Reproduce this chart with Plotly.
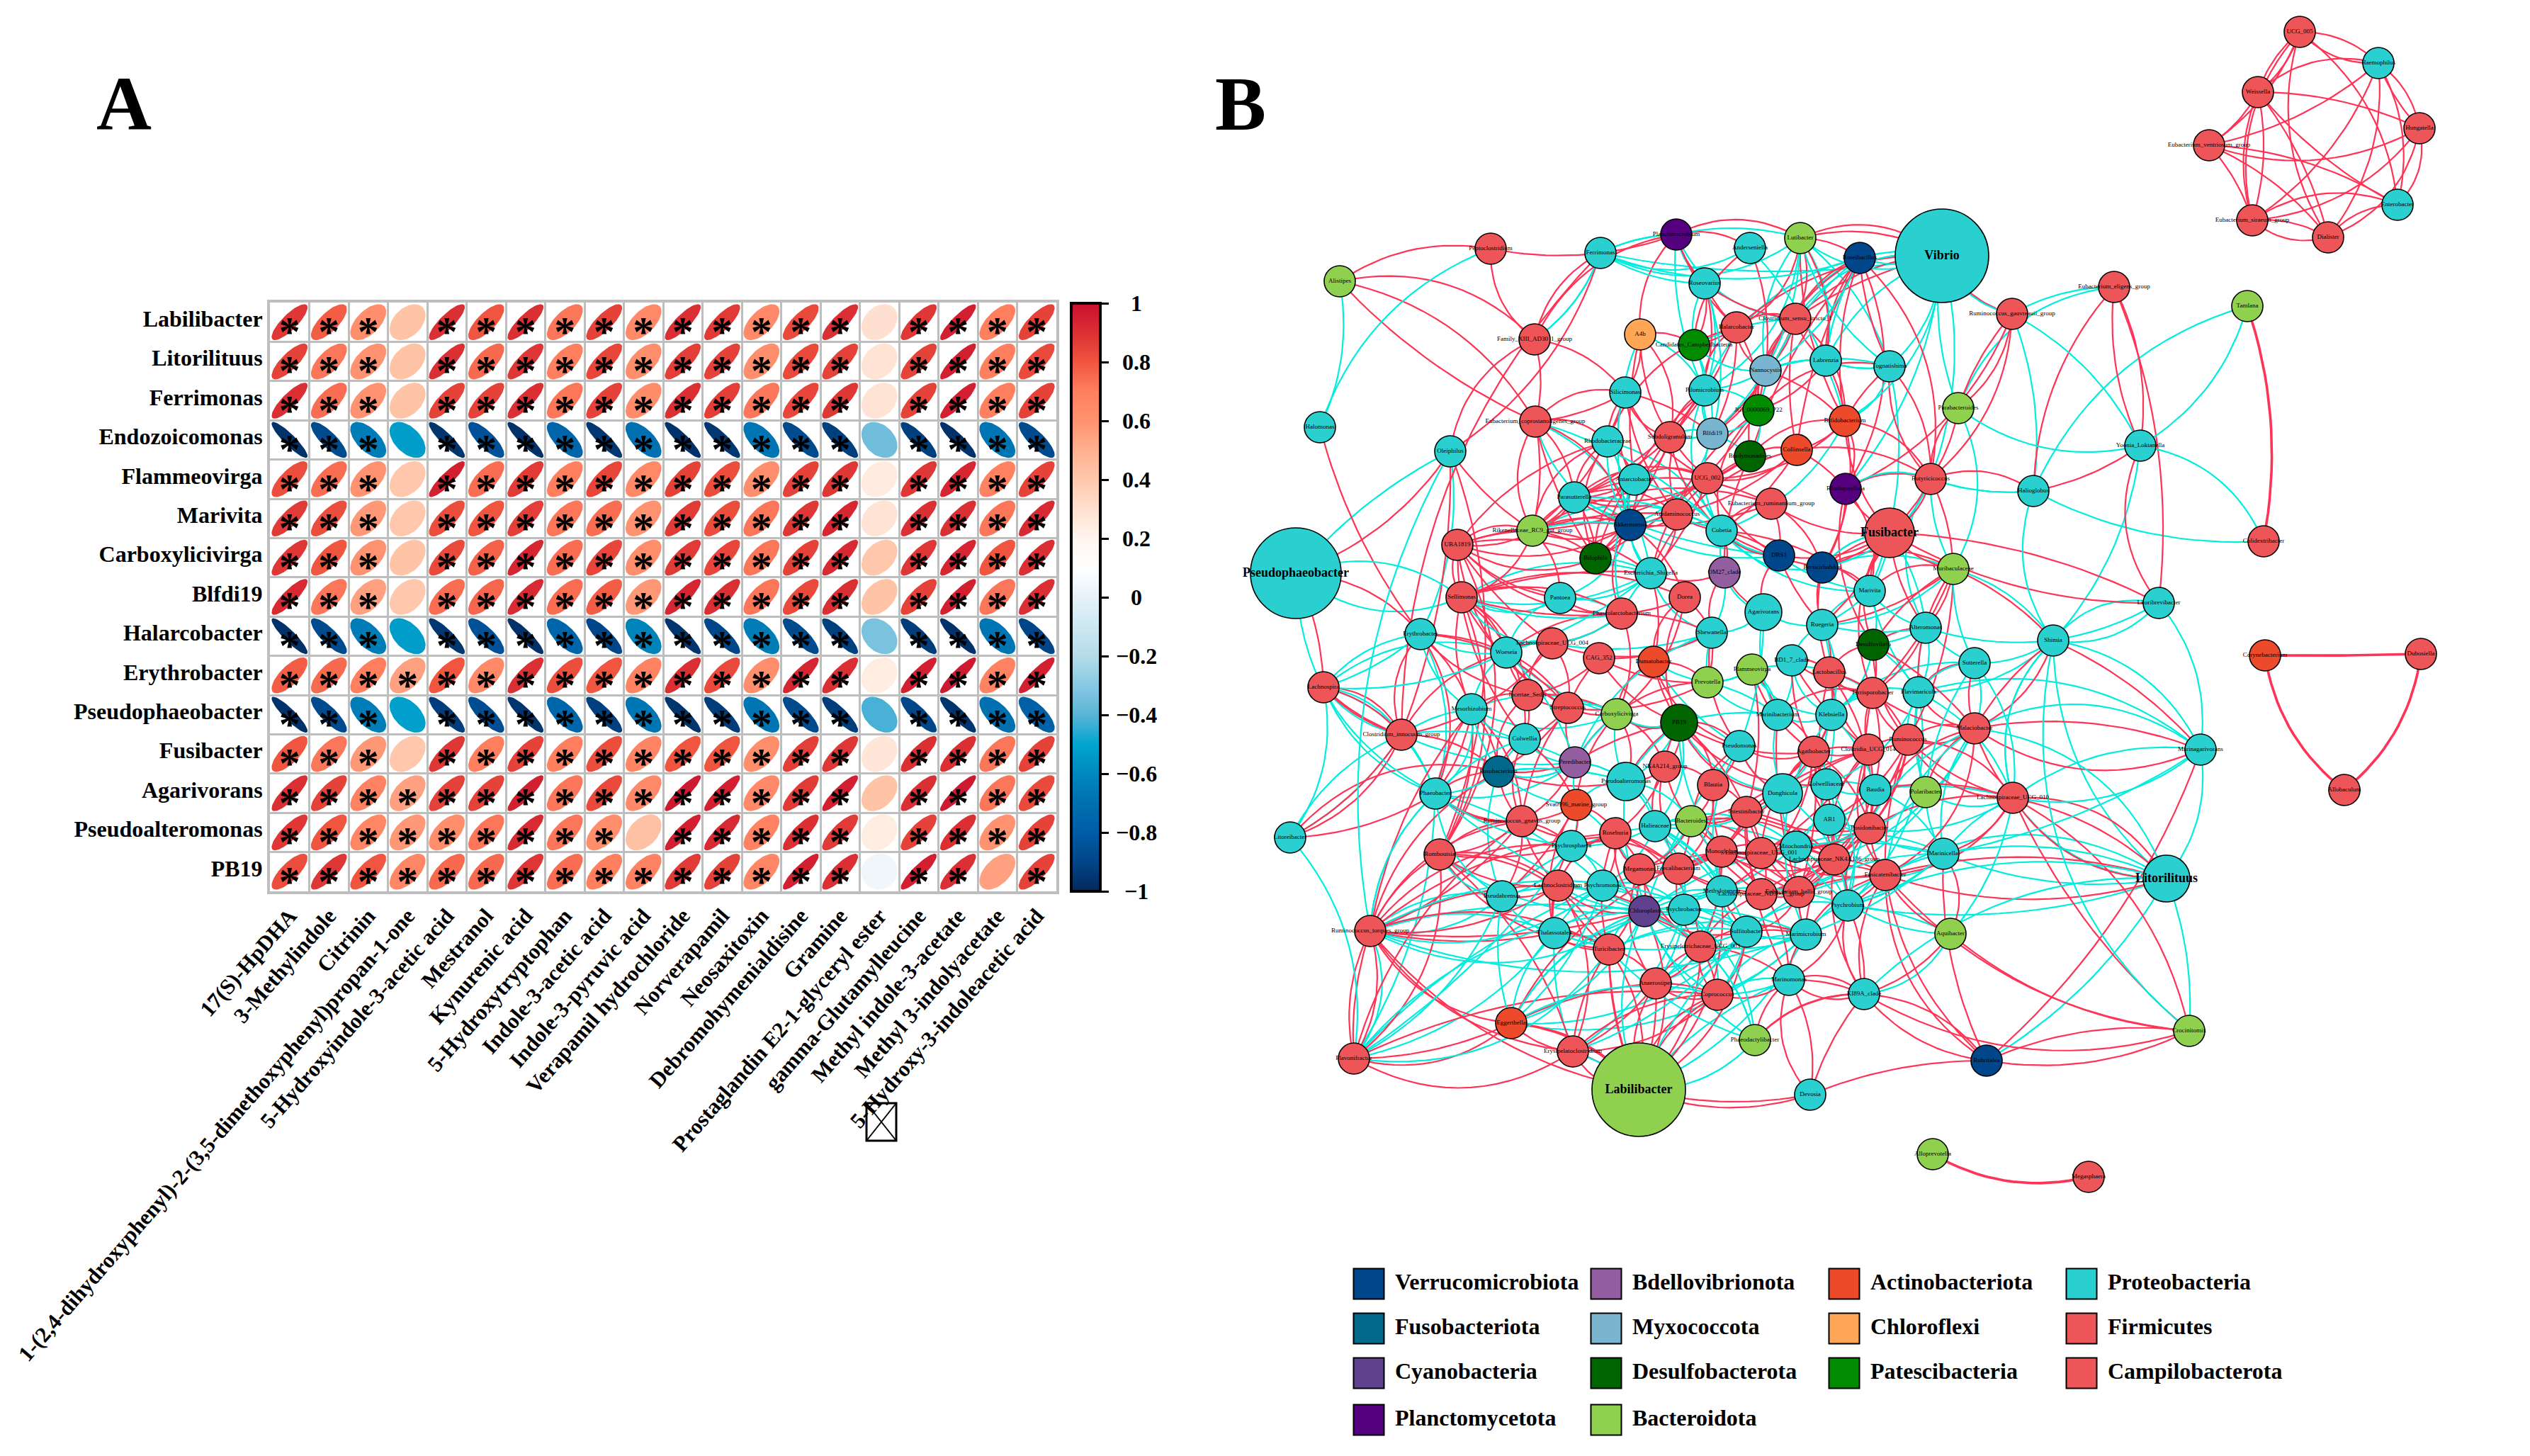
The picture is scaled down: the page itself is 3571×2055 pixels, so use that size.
import numpy as np
import plotly.graph_objects as go
from plotly.colors import sample_colorscale

FONT = "Liberation Serif"

# ---------- Panel A data ----------
metabolites = ["17(S)-HpDHA", "3-Methylindole", "Citrinin",
    "1-(2,4-dihydroxyphenyl)-2-(3,5-dimethoxyphenyl)propan-1-one",
    "5-Hydroxyindole-3-acetic acid", "Mestranol", "Kynurenic acid", "5-Hydroxytryptophan",
    "Indole-3-acetic acid", "Indole-3-pyruvic acid", "Verapamil hydrochloride", "Norverapamil",
    "Neosaxitoxin", "Debromohymenialdisine", "Gramine", "Prostaglandin E2-1-glyceryl ester",
    "gamma-Glutamylleucine", "Methyl indole-3-acetate", "Methyl 3-indolyacetate",
    "5-Hydroxy-3-indoleacetic acid"]
genera = ["Labilibacter", "Litorilituus", "Ferrimonas", "Endozoicomonas", "Flammeovirga", "Marivita",
    "Carboxylicivirga", "Blfdi19", "Halarcobacter", "Erythrobacter", "Pseudophaeobacter", "Fusibacter",
    "Agarivorans", "Pseudoalteromonas", "PB19"]
corr = [
 [.88,.78,.62,.42,.90,.80,.90,.72,.85,.65,.90,.87,.65,.83,.90,.30,.88,.95,.70,.85],
 [.85,.72,.60,.42,.90,.75,.88,.70,.84,.62,.86,.85,.62,.83,.85,.28,.85,.95,.70,.83],
 [.90,.74,.60,.42,.85,.85,.90,.72,.85,.63,.90,.86,.72,.84,.88,.28,.85,.95,.70,.85],
 [-.97,-.88,-.65,-.53,-.96,-.85,-.97,-.75,-.95,-.70,-.97,-.95,-.68,-.88,-.92,-.35,-.92,-.97,-.68,-.88],
 [.82,.74,.60,.40,.95,.74,.87,.70,.84,.65,.85,.82,.62,.85,.88,.25,.88,.93,.68,.85],
 [.87,.82,.58,.40,.82,.80,.86,.72,.74,.60,.87,.82,.72,.88,.93,.28,.90,.90,.72,.92],
 [.88,.80,.60,.42,.83,.77,.93,.74,.84,.62,.87,.84,.72,.85,.92,.40,.88,.93,.80,.90],
 [.92,.72,.55,.40,.74,.76,.92,.74,.78,.58,.93,.90,.72,.83,.90,.42,.85,.95,.72,.90],
 [-.97,-.88,-.65,-.53,-.95,-.85,-.97,-.75,-.90,-.62,-.96,-.90,-.65,-.88,-.92,-.33,-.93,-.97,-.68,-.90],
 [.78,.75,.70,.55,.80,.65,.90,.82,.80,.68,.90,.83,.62,.93,.90,.24,.95,.97,.68,.95],
 [-.97,-.88,-.65,-.52,-.93,-.87,-.96,-.75,-.92,-.68,-.96,-.93,-.68,-.88,-.93,-.42,-.90,-.96,-.70,-.78],
 [.80,.72,.58,.40,.88,.70,.85,.70,.82,.67,.80,.80,.62,.86,.88,.27,.90,.90,.72,.85],
 [.90,.85,.68,.55,.85,.85,.95,.72,.83,.65,.97,.95,.65,.87,.95,.42,.90,.97,.72,.83],
 [.88,.80,.66,.58,.62,.72,.92,.72,.62,.43,.95,.92,.68,.90,.87,.24,.85,.90,.60,.85],
 [.82,.88,.80,.66,.75,.75,.88,.74,.70,.68,.87,.85,.66,.95,.90,.04,.95,.90,.55,.85],
]
no_star = [(r, 3) for r in (0,1,2,3,4,5,6,7,8,10,11)] + [(r, 15) for r in range(15)] + [(13, 9), (14, 18)]
cb_ticks = [1, .8, .6, .4, .2, 0, -.2, -.4, -.6, -.8, -1]
cb_text = ["1", "0.8", "0.6", "0.4", "0.2", "0", "\u22120.2", "\u22120.4", "\u22120.6", "\u22120.8", "\u22121"]
rdbu = [[0,"#04285C"],[.05,"#004688"],[.1,"#005CA6"],[.15,"#0070B0"],[.2,"#0088BE"],[.25,"#00A5CF"],
        [.3,"#5AB4D6"],[.35,"#88C8E2"],[.4,"#B4DCEA"],[.5,"#E6F2F8"],[.55,"#FFFFFF"],[.6,"#FFF5EE"],
        [.65,"#FFE0D0"],[.7,"#FFC8AC"],[.75,"#FFB090"],[.8,"#FF9270"],[.85,"#FF7F5F"],[.9,"#F0553F"],
        [.95,"#DB3033"],[1,"#C8102E"]]

# ---------- Panel B data ----------
phyla = ["Verrucomicrobiota","Fusobacteriota","Cyanobacteria","Planctomycetota","Bdellovibrionota","Myxococcota",
         "Desulfobacterota","Bacteroidota","Actinobacteriota","Chloroflexi","Patescibacteria","Proteobacteria",
         "Firmicutes","Campilobacterota"]
phylum_colors = ["#00468B","#00688B","#5F4190","#54007F","#925E9F","#7AB5CF","#006400","#8FD14F","#ED4A2B",
                 "#FFA657","#008B00","#2AD0D0","#ED5558","#ED5558"]
node_table = """Ali Alistipes 1891 397 Bacteroidota
Pep Peptoclostridium 2104 351 Firmicutes
Fer Ferrimonas 2259 357 Proteobacteria
Pla Planctomicrobium 2366 331 Planctomycetota
And Anderseniella 2470 350 Proteobacteria
Lut Lutibacter 2541 336 Bacteroidota
Rbc Roseibacillus 2625 364 Verrucomicrobiota
Rsv Roseovarius 2406 400 Proteobacteria
Css Clostridium_sensu_stricto_1 2534 450 Firmicutes
Hla Halarcobacter 2451 462 Firmicutes
A4b A4b 2315 472 Chloroflexi
Cam Candidatus_Campbellbacteria 2391 487 Patescibacteria
Fam Family_XIII_AD3011_group 2166 479 Firmicutes
Nan Nannocystis 2492 523 Myxococcota
Lbz Labrenzia 2577 509 Proteobacteria
Pil Pilomicrobium 2406 551 Proteobacteria
Sil Silicimonas 2294 554 Proteobacteria
JGI JGI_0000069_P22 2482 579 Patescibacteria
Bif Bifidobacterium 2604 594 Actinobacteriota
Hlm Halomonas 1863 603 Proteobacteria
Eco Eubacterium_coprostanoligenes_group 2167 595 Firmicutes
Blf Blfdi19 2417 612 Myxococcota
Sub Subdoligranulum 2357 617 Firmicutes
Rhb Rhodobacteraceae 2269 623 Proteobacteria
Ole Oleiphilus 2047 637 Proteobacteria
Bra Bradymonadales 2470 644 Desulfobacterota
Col Collinsella 2536 635 Actinobacteriota
U02 UCG_002 2410 675 Firmicutes
Ant Antarctobacter 2307 677 Proteobacteria
Rpl Rhodopirellula 2605 690 Planctomycetota
Par Parasutterella 2222 702 Proteobacteria
Eru Eubacterium_ruminantium_group 2500 711 Firmicutes
Akk Akkermansia 2301 741 Verrucomicrobiota
Aci Acidaminococcus 2367 726 Firmicutes
Cob Cobetia 2430 749 Proteobacteria
Rik Rikenellaceae_RC9_gut_group 2163 749 Bacteroidota
UBA UBA1819 2057 769 Firmicutes
Fus Fusibacter 2667 752 Firmicutes
DBS DBS1 2511 784 Verrucomicrobiota
Per Persicirhabdus 2572 801 Verrucomicrobiota
Bil Bilophila 2252 788 Desulfobacterota
OM2 OM27_clade 2434 808 Bdellovibrionota
Esc Escherichia_Shigella 2330 809 Proteobacteria
Psp Pseudophaeobacter 1829 809 Proteobacteria
Mar Marivita 2639 834 Proteobacteria
Sel Sellimonas 2063 843 Firmicutes
Pan Pantoea 2202 844 Proteobacteria
Dor Dorea 2378 843 Firmicutes
Pha Phascolarctobacterium 2289 866 Firmicutes
Aga Agarivorans 2489 864 Proteobacteria
Rue Ruegeria 2572 882 Proteobacteria
Ery Erythrobacter 2005 895 Proteobacteria
She Shewanella 2416 893 Proteobacteria
L04 Lachnospiraceae_UCG_004 2191 908 Firmicutes
Dsv Desulfovibrio 2644 910 Desulfobacterota
Woe Woeseia 2126 921 Proteobacteria
CAG CAG_352 2257 929 Firmicutes
Dum Dumatobacter 2334 934 Actinobacteriota
BD1 BD1_7_clade 2529 932 Proteobacteria
Fla Flammeovirga 2473 945 Bacteroidota
Lac Lactobacillus 2582 949 Firmicutes
Pre Prevotella 2410 963 Bacteroidota
Lsp Lachnospira 1868 970 Firmicutes
Inc Incertae_Sedis 2156 981 Firmicutes
Ter Terrisporobacter 2643 978 Firmicutes
Str Streptococcus 2213 999 Firmicutes
Mes Mesorhizobium 2077 1001 Proteobacteria
Car Carboxylicivirga 2282 1008 Bacteroidota
Kle Klebsiella 2585 1009 Proteobacteria
Mrb Marinibacterium 2509 1009 Proteobacteria
PB1 PB19 2370 1020 Desulfobacterota
Cin Clostridium_innocuum_group 1978 1037 Firmicutes
Cwl Colwellia 2152 1043 Proteobacteria
Psm Pseudomonas 2455 1053 Proteobacteria
Agt Agathobacter 2560 1061 Firmicutes
C14 Clostridia_UCG_014 2637 1058 Firmicutes
Prd Peredibacter 2223 1076 Bdellovibrionota
Fsb Fusobacterium 2115 1089 Fusobacteriota
NK4 NK4A214_group 2350 1082 Firmicutes
Pal Pseudoalteromonas 2295 1103 Proteobacteria
Blt Blautia 2418 1108 Firmicutes
Pba Phaeobacter 2026 1120 Proteobacteria
Don Donghicola 2516 1120 Proteobacteria
Cwc Colwelliaceae 2578 1107 Proteobacteria
Bau Baudia 2647 1115 Proteobacteria
Sva Sva0996_marine_group 2225 1136 Actinobacteriota
Int Intestinibacter 2465 1146 Firmicutes
AB1 AB1 2582 1157 Proteobacteria
Gna Ruminococcus_gnavus_group 2148 1159 Firmicutes
Bac Bacteroides 2387 1159 Bacteroidota
Hli Halieaceae 2336 1166 Proteobacteria
Rbu Roseburia 2280 1176 Firmicutes
Lto Litoreibacter 1821 1182 Proteobacteria
Pos Posidonibacter 2639 1169 Firmicutes
Psy Psychrosphaera 2218 1194 Proteobacteria
Mit Mitochondria 2535 1195 Proteobacteria
Mon Monoglobus 2430 1202 Firmicutes
LUC Lachnospiraceae_UCG_001 2486 1204 Firmicutes
Rom Romboutsia 2032 1206 Firmicutes
N36 Lachnospiraceae_NK4A136_group 2589 1213 Firmicutes
Fae Faecalibacterium 2369 1226 Firmicutes
Meg Megamonas 2314 1227 Firmicutes
Lcl Lachnoclostridium 2199 1250 Firmicutes
Prm Psychromonas 2262 1250 Proteobacteria
Met Methylotenera 2430 1258 Proteobacteria
ND3 Lachnospiraceae_ND3007_group 2486 1262 Firmicutes
Hll Eubacterium_hallii_group 2539 1259 Firmicutes
Pah Pseudahrensia 2120 1265 Proteobacteria
Prb Psychrobium 2608 1278 Proteobacteria
Chl Chloroplast 2321 1286 Cyanobacteria
Pbt Psychrobacter 2377 1284 Proteobacteria
Sfb Sulfitobacter 2465 1315 Proteobacteria
Mmb Marimicrobium 2549 1319 Proteobacteria
Tor Ruminococcus_torques_group 1934 1314 Firmicutes
Tha Thalassotalea 2194 1317 Proteobacteria
Tur Turicibacter 2271 1340 Firmicutes
E03 Erysipelotrichaceae_UCG_003 2400 1336 Firmicutes
Ana Anaerostipes 2337 1388 Firmicutes
Cop Coprococcus 2424 1404 Firmicutes
Mnm Marinomonas 2525 1383 Proteobacteria
Egg Eggerthella 2133 1444 Actinobacteriota
Ecl Erysipelatoclostridium 2220 1484 Firmicutes
Flv Flavonifractor 1911 1494 Firmicutes
Phd Phaeodactylibacter 2477 1468 Bacteroidota
KI8 KI89A_clade 2631 1403 Proteobacteria
Lbl Labilibacter 2313 1538 Bacteroidota
Dev Devosia 2555 1545 Proteobacteria
U05 UCG_005 3246 45 Firmicutes
Hae Haemophilus 3357 89 Proteobacteria
Wei Weissella 3187 130 Firmicutes
Hun Hungatella 3415 181 Firmicutes
Eve Eubacterium_ventriosum_group 3118 205 Firmicutes
Ent Enterobacter 3384 289 Proteobacteria
Esi Eubacterium_siraeum_group 3179 311 Firmicutes
Dia Dialister 3286 335 Firmicutes
Vib Vibrio 2741 361 Proteobacteria
Eel Eubacterium_eligens_group 2984 405 Firmicutes
Gau Ruminococcus_gauvreauii_group 2840 443 Firmicutes
Tam Tamlana 3172 432 Bacteroidota
Tog Tognatishima 2667 517 Proteobacteria
Pbd Parabacteroides 2764 576 Bacteroidota
Yoo Yoonia_Loktanella 3021 629 Proteobacteria
But Butyricicoccus 2725 676 Firmicutes
Hgl Halioglobus 2870 693 Proteobacteria
Cdx Colidextribacter 3195 764 Firmicutes
Lbr Litoribrevibacter 3047 851 Proteobacteria
Shi Shimia 2898 904 Proteobacteria
Alt Alteromonas 2718 886 Proteobacteria
Cor Corynebacterium 3197 925 Actinobacteriota
Dub Dubosiella 3417 923 Firmicutes
Sut Sutterella 2787 936 Proteobacteria
Fmr Flavimaricola 2708 977 Proteobacteria
Mal Malaciobacter 2787 1028 Campilobacterota
Rum Ruminococcus 2693 1044 Firmicutes
Mag Marinagarivorans 3106 1058 Proteobacteria
L10 Lachnospiraceae_UCG_010 2841 1126 Firmicutes
Pol Polaribacter 2718 1118 Bacteroidota
All Allobaculum 3309 1115 Firmicutes
Min Marinicella 2743 1205 Proteobacteria
Fct Fusicatenibacter 2661 1235 Firmicutes
Lit Litorilituus 3058 1240 Proteobacteria
Aqu Aquibacter 2753 1318 Bacteroidota
Cro Crocinitomix 3090 1455 Bacteroidota
Rub Rubritalea 2804 1497 Verrucomicrobiota
Apv Alloprevotella 2728 1629 Bacteroidota
Mgs Megasphaera 2948 1661 Firmicutes
Mur Muribaculaceae 2757 803 Bacteroidota"""
_rows = [l.split() for l in node_table.splitlines()]
node_ids = [r[0] for r in _rows]
node_names = [r[1] for r in _rows]
node_x = [int(r[2]) for r in _rows]
node_y = [int(r[3]) for r in _rows]
node_phylum = [r[4] for r in _rows]
big_nodes = {"Psp":128, "Vib":132, "Lbl":132, "Fus":70, "Lit":66}
mid_nodes = {"PB1":52, "Aga":52, "Pal":54, "Don":56}

red_edges = """Ali-Pep Ali-Fam Ali-Eco Ali-Eco Pep-Pla Pep-Fam Fer-Fam Pla-Fam Pla-And Pla-Lut Pla-Rsv Pla-A4b Pla-Hla
Lut-Vib Lut-Css Lut-Hla Lut-Rbc Lut-Bif Lut-Lbz And-Cam And-Nan Rsv-Css Rsv-Hla Rsv-Cam Rsv-Sub Css-Hla Css-Nan Css-Bif Css-Col Css-JGI Css-Lbz Css-Bra Css-Blf Css-Rbc Css-Vib
Hla-Cam Hla-Nan Hla-JGI Hla-Pil Hla-Blf Hla-Sub Hla-Vib Hla-Rhb A4b-Sil A4b-Ant A4b-Sub A4b-Cam A4b-U02 Rbc-Bif Rbc-Tog Rbc-Col Rbc-JGI Rbc-Lbz Rbc-But Rbc-Rpl Rbc-Bra
Nan-JGI Nan-Blf Nan-Bif Lbz-Bif Lbz-JGI Tog-Bif Tog-JGI Tog-But Tog-But Bif-But Bif-Rpl Bif-Col Bif-Per Bif-Fus Bif-U02 Bif-Bra Col-U02 Col-Bra Col-Aci Col-Cob Col-Rpl Col-But Col-Esc
Bra-U02 Bra-Par Bra-Rik Bra-Aci JGI-Cob JGI-Bil JGI-Esc Sil-Eco Sil-Eco Sil-Sub Sil-Rhb Sil-Ant Sil-Aci Sil-Rik Sil-U02 Sil-Blf Pil-Sub Pil-Par Pil-Bil Pil-Aci Sub-Ant Sub-Cob Sub-Bil Sub-Akk Sub-Par
Rhb-Ant Rhb-Par Rhb-Akk Rhb-Bil Rhb-Rik Rhb-UBA Eco-Rhb Eco-Rik Eco-Rik Eco-Akk Eco-Bil Eco-Par Eco-Fam Fam-Sil Ole-Fer Ole-Rik Ole-Psp Ole-Fam
U02-Aci U02-Ant U02-Par U02-Par U02-Esc U02-DBS Ant-Akk Ant-Par Ant-Bil Aci-Par Aci-Akk Aci-Cob Aci-Rik Aci-Bil Aci-Esc Par-Rik Par-Rik Par-UBA Par-Akk Par-Bil
Eru-Rik Eru-Par Eru-Akk Eru-Cob Eru-DBS Eru-Per Eru-Fus Rik-Akk Rik-Akk Rik-UBA Rik-Bil Rik-Sel Rik-Pan UBA-Akk UBA-Akk UBA-Sel UBA-Bil UBA-Bil UBA-Pha UBA-L04 UBA-Pan UBA-Esc UBA-Cwl UBA-Str
Akk-Pha Akk-Bil Akk-Dor Cob-Per Cob-OM2 Cob-DBS Cob-DBS Cob-Mar Rpl-Fus Rpl-Per Rpl-Mar Rpl-Dsv Fus-Per Fus-Mar Fus-Rue Fus-Mur Fus-DBS Fus-Dsv Fus-Alt Fus-Lbr Per-Mar Per-Rue Per-Mur Per-Lac DBS-Rue DBS-Aga OM2-Esc OM2-She OM2-Aga OM2-Bra
Hlm-Ery Psp-Ery Psp-Lsp Ole-Rom Sel-Pan Sel-Pha Sel-Pha Sel-Woe Sel-Esc Sel-Inc Sel-Str Sel-Dor Sel-Cwl Sel-Mes Pan-Pha Pha-She Pha-Car Pha-Woe Pha-L04 Pha-Dor Ery-Mes Ery-Woe Ery-Inc Ery-Str Ery-Cin
L04-Str L04-Inc L04-She L04-Woe L04-Cin Woe-Inc Woe-Str CAG-She CAG-Str CAG-PB1 CAG-Pre CAG-Inc Dum-Pre Dum-Car Dum-PB1 Dum-Psm Dum-Esc Dor-Dum Dor-Car Dor-She Dor-PB1 She-Pre She-Psm Pre-Car Pre-Str
Inc-Cwl Inc-Mes Inc-Str Inc-Car Inc-Fsb Str-Prd Str-Car Str-Fsb Str-Cwl Str-Gna Mes-Fsb Mes-Gna Mes-Pba Mes-Rom Cin-Lto Cin-Lsp Cin-Lsp Cin-Ole Cin-Fer Cin-Woe Cwl-Gna Cwl-Fsb Cwl-Sva
Prd-PB1 Prd-Fsb Prd-Gna Prd-Car Fsb-Lto Fsb-Pba Fsb-Gna Fsb-Pal Car-PB1 Car-NK4 Car-Pal Car-Sva PB1-NK4 PB1-Psm PB1-Blt PB1-Agt PB1-Int PB1-Don PB1-Pal PB1-Fae PB1-Cwc NK4-Pal NK4-Blt NK4-Hli NK4-Bac NK4-Rbu
Psm-Agt Psm-Blt Psm-Don Psm-Bac Blt-Int Blt-Bac Blt-Fae Blt-Mon Agt-Int Agt-Don Agt-Cwc Agt-Lac Agt-C14 Agt-C14 Agt-AB1 Agt-Pos Agt-Met Agt-Bac Agt-LUC Agt-N36 Agt-Hll Agt-Kle
Lac-C14 Lac-Ter Lac-Dsv Lac-Pos Lac-N36 Lac-Rue BD1-Lac BD1-Agt BD1-C14 BD1-Ter Fla-Agt Fla-Int Fla-Mrb Mrb-Agt Mrb-Hll Mrb-Ter Ter-C14 Ter-Dsv Ter-Rum Ter-Fus Ter-Pos Ter-N36
Rum-C14 Rum-C14 Rum-Pos Rum-Fct Rum-N36 Rum-L10 Rum-Mal Rum-L10 Rum-AB1 Rum-Hll Rum-Lac Rum-Dsv C14-Pos C14-N36 C14-Int C14-Hll C14-LUC C14-Fct C14-Mon Pos-N36 Pos-Hll Pos-Fct Pos-LUC Pos-Mon Pos-ND3 Pos-Int
N36-Fct N36-Hll N36-Int N36-LUC N36-ND3 N36-Mon N36-Fae N36-Bac Fct-Hll Fct-ND3 Fct-LUC Fct-Aqu Fct-KI8 Fct-Rub Fct-Mal Hll-ND3 Hll-LUC Hll-Mon Hll-Int Hll-Bac Hll-Fae ND3-LUC ND3-Mon ND3-Int ND3-Bac ND3-Fae ND3-E03
LUC-Mon LUC-Int LUC-Bac LUC-Fae LUC-Meg Mon-Fae Mon-Int Mon-Bac Mon-Meg Mon-E03 Int-Bac Int-Fae Fae-Meg Fae-Bac Fae-E03 Fae-Rbu Fae-Psy Meg-Rbu Meg-Bac Meg-E03 Meg-Ana Meg-Tur
E03-Ana E03-Ana E03-Cop E03-Cop E03-Lcl E03-Rbu E03-Mnm E03-Mmb E03-Lbl Ana-Cop Ana-Cop Ana-Lbl Ana-Lbl Ana-Ecl Ana-Tur Ana-Egg Cop-Ecl Cop-Lbl Cop-Flv Cop-Mnm
Tur-Tha Tur-Tha Tur-Tor Tur-Rom Tur-Lbl Tur-Lbl Tur-Ecl Tor-Egg Tor-Ecl Tor-Tha Tor-Rom Tor-Lcl Tor-Lcl Tor-Gna Tor-Gna Tor-Fsb Tor-Lbl Tor-Flv Tor-Flv Tor-Flv Tor-Psy Tor-Rbu Tor-Chl
Rom-Gna Rom-Gna Rom-Lcl Rom-Lcl Rom-Flv Rom-Psy Rom-Tur Rom-Ecl Gna-Rbu Gna-Lcl Gna-Sva Gna-Pba Gna-Psy Gna-Flv Sva-Rbu Sva-Psy Rbu-Lcl Rbu-Chl Rbu-Prm Rbu-Psy Rbu-Chl Rbu-Tur Lcl-Chl Lcl-Tha Lcl-Tur Lcl-Ecl
Egg-Ecl Egg-Lbl Egg-Flv Egg-Lbl Egg-Mon Ecl-Lbl Ecl-Lbl Ecl-Cop Flv-Ecl Flv-Egg Lbl-Dev Lbl-Cop Lbl-Tur Lbl-Chl Lbl-Met Lbl-Sfb Phd-Mnm Phd-KI8 Mnm-Prb Mnm-KI8 Mnm-KI8 Mnm-KI8 Mnm-Dev Mnm-Mmb Mnm-Mon Mnm-Int
Mmb-Hll Mmb-N36 Mmb-Sfb Mmb-Fct Sfb-Hll Sfb-Mon Sfb-Chl Sfb-Cop Prb-KI8 Prb-KI8 Prb-Fct Prb-Pos Prb-N36
Lsp-Cin Lsp-Cin Pba-Lto Cin-Fsb Cin-Lto Pba-Gna Pba-Mes Ery-Pba Tor-Mes Rom-Sel Rom-UBA Pah-Gna Pah-Sva Pah-Lcl Tha-Sva Tha-Psy
Vib-Lut Vib-Css Vib-Gau Gau-Pbd Gau-Pbd Gau-Rpl Gau-But Eel-Hgl Eel-Yoo Eel-Yoo Eel-Lbr Pbd-But Pbd-But Yoo-Hgl Yoo-Lbr Hgl-But Fus-Lbr Mur-Shi Mur-Dsv Mur-Ter Mur-Alt Mur-Fmr Mur-Mar Mur-Rue Mur-Rum But-Mur But-Fus But-Rpl But-Per
Shi-Mag Shi-Mal Shi-Mal Mag-Mal Mag-Mal Mag-Rub Lit-L10 Lit-L10 Lit-L10 Lit-Fct Lit-Fct Cro-L10 Cro-L10 Cro-Aqu Cro-KI8 Cro-Rub Cro-Rub Cro-Fct Rub-KI8 Rub-KI8 Rub-Fct Rub-Min Rub-Dev Aqu-KI8 Aqu-Min KI8-Dev KI8-Phd KI8-N36 Dev-Mnm Dev-Lbl Mal-Rum Mal-Fmr Mal-Ter Mal-Pol Mal-Pos L10-Min L10-Fct L10-Pos L10-Bau L10-Rum Mal-L10 Mal-Dsv Sut-Fmr Sut-Mal Alt-Dsv Alt-Ter
U05-Hae U05-Hae U05-Wei U05-Wei U05-Eve U05-Esi U05-Dia U05-Ent Hae-Wei Hae-Eve Hae-Hun Hae-Hun Hae-Ent Hae-Esi Hae-Dia Wei-Hun Wei-Eve Wei-Esi Wei-Esi Wei-Dia Wei-Ent Hun-Eve Hun-Ent Hun-Esi Hun-Dia Eve-Ent Eve-Esi Eve-Dia Ent-Esi Ent-Dia Esi-Dia Esi-Dia"""

# edges drawn heavier in the reference, with the bend each one shows
heavy_edges = ["Tam-Cdx", "Cor-Dub", "Cor-All", "Dub-All", "Mgs-Apv"]
heavy_bends = [-.13, .01, .2, -.2, -.2]

cyan_edges = """Ali-Hlm Pep-Hlm Fer-Fam Fer-Fam Fer-Pla Fer-Pla Fer-Lut Fer-Rsv Fer-And Fer-Rbc Fer-Vib Pla-Lut Pla-Rsv Pla-Pil Pla-Css And-Bif Lut-Lbz Lut-Tog Lut-Pil Lut-Blf Lut-Nan Lut-Vib Lut-Tog
Rbc-Vib Rbc-Vib Rbc-Nan Rbc-Pil Rbc-JGI Rbc-Lbz Rsv-Cam Rsv-Pil Rsv-Blf Cam-Css Cam-Nan Cam-Pil Cam-Blf Nan-Lbz Nan-Lbz Nan-Pil Nan-Tog Nan-Rbc Pil-Blf Pil-Cob Pil-JGI Pil-Blf Blf-Sub Blf-Sub Blf-Cob Blf-Akk Blf-JGI Blf-Bra JGI-Bra A4b-Pil A4b-Akk
Lbz-Tog Lbz-Tog Lbz-Vib Vib-Bif Vib-Tog Vib-Pbd Vib-But Vib-Gau Vib-Rpl Vib-Css Tog-Mar Tog-Bif Bif-Cob Rhb-Akk Rhb-Cob Rhb-Akk Ant-Akk Ant-Cob Ant-Esc Ant-Pha Par-Akk Par-Cob Par-DBS Eco-Akk Eco-Esc Eco-Cob Rik-Cob Rik-Akk
Akk-Cob Akk-Cob Akk-DBS Akk-Esc Akk-Pan Bil-Esc Cob-DBS Cob-DBS Cob-OM2 Cob-Per Cob-Mar DBS-Mar Per-Fus Per-Fus Per-Mur Fus-Mar Fus-Alt Mar-Alt Mar-Rue Alt-Rue Alt-Sut Alt-Fmr Alt-Fmr Mur-Sut Mur-Rue Sut-Fmr Sut-Kle Sut-L10 Sut-Mal
Shi-Sut Shi-Fmr Shi-Mur Shi-L10 Shi-L10 Shi-Lit Shi-Cro Fmr-Kle Fmr-L10 Fmr-Mar Fmr-Rum Fmr-Pol Fmr-Cwc Fmr-Prb
Flv-Lto Flv-Tor Flv-Pah Flv-Tha Flv-Chl Flv-Pba Flv-Tur Flv-Prm Flv-Psy Tor-Pba Tor-Pba Tor-Pah Tor-Chl Tor-Chl Tor-Sfb Tor-Tha Tor-Prm Tor-Mmb Egg-Tha Egg-Chl Egg-Chl Egg-Sfb Egg-Prm Egg-Mmb Egg-Pah Egg-Pbt Egg-Cop
Ecl-Tha Ecl-Sfb Ecl-Pbt Ana-Pbt Ana-Sfb Ana-Mmb Ana-Met Cop-Sfb Cop-Mmb Cop-Mnm Cop-Mnm Cop-Mmb Cop-Pbt Cop-Chl Lbl-Mmb Lbl-Sfb Lbl-Phd Lbl-Ecl Lbl-Mnm Lbl-Chl Phd-Chl Phd-Chl Phd-Chl Phd-Pbt
Pbt-Chl Pbt-Hli Pbt-Prm Pbt-Met Pbt-Sfb Pbt-Hli Met-Sfb Met-Chl Met-Prm Met-Hli Sfb-Mmb Sfb-Mmb Sfb-Chl Sfb-Prb Mmb-Prb Mmb-Chl Mmb-Mit Mmb-Min Prb-Mit Prb-Min Prb-Min Prb-Don Prb-AB1 Prb-Cwc
AB1-Mit AB1-Cwc AB1-Bau AB1-Min AB1-L10 Bau-Cwc Bau-Pol Bau-Min Bau-L10 Bau-Kle Cwc-Don Cwc-Mit Cwc-Bau Cwc-Kle Don-Mit Don-Hli Don-Psm Don-Mrb Mit-Hli Mit-Pol Mit-Min Pol-Min Pol-L10 Pol-Sut Pol-Fmr
Min-L10 Min-Mal Min-Lit Min-Lit Min-Mag L10-Lit L10-Mag L10-Mag Mag-Mal Mag-Fmr Mag-Lit Mag-Shi Lbr-Shi Lbr-Shi Lbr-Alt Lbr-Mag Lit-Prb Lit-Prb Lit-Cro Lit-Rub Lit-Mal Lit-Fct KI8-Lit Aqu-KI8 Aqu-L10 Aqu-Prb Aqu-Mit
Tha-Prm Tha-Pah Pah-Psy Pah-Chl Pah-Tor Pah-Rom Pah-Fsb Pah-Pba Pah-Hli Pba-Fsb Pba-Prd Pba-Mes Pba-Lsp Pba-Cwl Pba-Prm Pba-Psy Pba-Cin Lsp-Cin Lsp-Cin Lsp-Woe Lsp-Woe Lsp-Ery Lsp-Ery Lsp-Lto Lsp-Pba
Ery-Woe Ery-Pba Ery-Mes Cin-Mes Cin-Prd Cin-Prd Cin-Lto Cin-Lto Mes-Cwl Mes-Car Mes-Fsb Mes-Woe Woe-Pan Woe-L04 Woe-Esc Woe-Car Woe-Prd Sel-Pan Sel-Pha Sel-Esc Sel-L04 Sel-Esc Psp-Sel Psp-Sel Psp-Pba Ole-Psp Ole-Tor Ole-Ery
Pan-Esc Pan-Pha Pha-Esc Pha-L04 Pha-L04 She-Esc She-OM2 She-L04 She-Prd Fsb-Prd Fsb-Prd Fsb-Cwl Fsb-Sva Fsb-Pal Fsb-Pal Prd-Pal Prd-Pal Prd-Cwl Prd-Sva Pal-Sva Pal-Hli Pal-PB1 Pal-Bac Pal-Chl Pal-Hli Sva-Chl
Car-PB1 Car-Pal Car-Str Car-Mes Car-Prd Pre-Fla Pre-Fla Pre-Mrb Pre-Dum Pre-She Pre-Mrb Fla-Mrb Fla-Kle Fla-Ter PB1-Mrb PB1-Hli PB1-Pal PB1-Don PB1-Mon Psm-Dum Psm-Met Psm-Chl Psm-Aga Mrb-Kle Kle-Ter
Chl-Prm Chl-Lcl Chl-Psy Chl-Tha Chl-Mit Chl-Prb Chl-Mmb Chl-Pba Chl-Rom Chl-Egg Prm-Hli Prm-Psy Prm-Bac Psy-Hli Psy-Sva Bac-Hli Bac-Mon Bac-Met Bac-Int Hli-Met Hli-Mit Hli-Sfb Tur-Chl Tur-Sfb Tur-Mmb Tur-Phd Tha-Chl Tha-Sfb Tha-Tur
Gau-Eel Gau-Hgl Gau-Yoo Eel-Pbd Tam-Yoo Tam-Hgl Pbd-Yoo Yoo-Shi Yoo-Cdx Hgl-Cdx Hgl-Shi Hgl-But Hgl-But Pbd-Mur But-Rpl But-Mur But-Per But-Alt
Mal-Fct Mal-N36 Mal-Prb Mal-Hll Min-Prb Min-Fct Min-Hll Min-Chl Fct-Mmb Fct-Sfb Kle-Mmb Kle-Don Rue-Kle Rue-Cwc Rue-Mar Lac-Kle Aga-Rue Aga-She Aga-Mrb Aga-OM2 BD1-Rue BD1-Mrb BD1-Kle Dsv-Kle Dsv-Alt Dsv-Fmr Dsv-Mar"""

# ---------- Helpers ----------
W, H = 3571, 2055
GX0, GX1, GY0, GY1 = 381, 1491, 427, 1258
CB_X0, CB_X1, CB_Y0, CB_Y1 = 1512, 1553, 428, 1258
idx = {n: i for i, n in enumerate(node_ids)}
CURVES = [.14, -.2, .26, -.11, .18, -.27, .1, -.16, .23, -.13, .3, -.22]

def edge_path(pairs, bends=None):
    xs, ys = [], []
    t = np.linspace(0, 1, 18)
    for k, pair in enumerate(pairs):
        a, b = pair.split("-")
        ax, ay, bx, by = node_x[idx[a]], node_y[idx[a]], node_x[idx[b]], node_y[idx[b]]
        c = bends[k] if bends else CURVES[(k * 5 + idx[a] + idx[b]) % len(CURVES)]
        mx, my = (ax + bx) / 2 - c * (by - ay), (ay + by) / 2 + c * (bx - ax)
        xs += list((1 - t) ** 2 * ax + 2 * t * (1 - t) * mx + t ** 2 * bx) + [None]
        ys += list((1 - t) ** 2 * ay + 2 * t * (1 - t) * my + t ** 2 * by) + [None]
    return xs, ys

def add_edges(pairs, color, width, bends=None):
    xs, ys = edge_path(pairs, bends)
    fig.add_trace(go.Scatter(x=xs, y=ys, mode="lines", line=dict(color=color, width=width),
                             hoverinfo="skip", showlegend=False))

fig = go.Figure()

# ---------- Panel A: ellipses ----------
ts = np.linspace(0, 2 * np.pi, 61)
star_x, star_y = [], []
for i, row in enumerate(corr):
    for j, r in enumerate(row):
        a = np.arccos(r * .93) / 2
        ex = j + .5 + .457 * np.cos(ts + a)
        ey = i + .5 - .457 * np.cos(ts - a)
        col = sample_colorscale(rdbu, [(r + 1) / 2])[0]
        fig.add_trace(go.Scatter(x=ex, y=ey, xaxis="x2", yaxis="y2", mode="lines", fill="toself",
                                 fillcolor=col, line=dict(width=0), hoverinfo="skip", showlegend=False))
        if (i, j) not in no_star:
            star_x.append(j + .5)
            star_y.append(i + .5)
fig.add_trace(go.Scatter(x=star_x, y=[v + .33 for v in star_y], xaxis="x2", yaxis="y2", mode="text",
                         text=["<b>*</b>"] * len(star_x), textposition="middle center",
                         textfont=dict(family=FONT, size=60, color="black"), hoverinfo="skip", showlegend=False))
# colour bar, carried by an invisible marker
fig.add_trace(go.Scatter(x=[.5], y=[.5], xaxis="x2", yaxis="y2", mode="markers", hoverinfo="skip", showlegend=False,
    marker=dict(size=1, opacity=0, color=[corr[0][0]], cmin=-1, cmax=1, colorscale=rdbu, showscale=True,
        colorbar=dict(x=CB_X0 / W, xanchor="left", xpad=0, y=1 - CB_Y0 / H, yanchor="top", ypad=0,
            thicknessmode="pixels", thickness=CB_X1 - CB_X0, lenmode="pixels", len=CB_Y1 - CB_Y0,
            outlinecolor="black", outlinewidth=4, ticks="outside", ticklen=10, tickwidth=3, tickcolor="black",
            tickmode="array", tickvals=cb_ticks, showticklabels=False, bgcolor="rgba(0,0,0,0)"))))

# ---------- Panel B: network ----------
cyan_pairs = cyan_edges.split()
red_pairs = red_edges.split()
add_edges(cyan_pairs[::2], "#00EEDD", 2.2)
add_edges(red_pairs, "#FF3355", 2.2)
add_edges(cyan_pairs[1::2], "#00EEDD", 2.2)
add_edges(heavy_edges, "#FF3355", 3.6, heavy_bends)
color_of = dict(zip(phyla, phylum_colors))
sizes = [big_nodes.get(n, mid_nodes.get(n, 44)) for n in node_ids]
fig.add_trace(go.Scatter(x=node_x, y=node_y, mode="markers", hovertext=node_names, hoverinfo="text", showlegend=False,
    marker=dict(size=sizes, color=[color_of[p] for p in node_phylum], line=dict(color="black", width=1.6), opacity=1)))
fig.add_trace(go.Scatter(x=node_x, y=node_y, mode="text", hoverinfo="skip", showlegend=False,
    text=[f"<b>{n}</b>" if i in big_nodes else n for i, n in zip(node_ids, node_names)],
    textposition="middle center",
    textfont=dict(family=FONT, color="black", size=[18 if i in big_nodes else 9 for i in node_ids])))

# ---------- Legend ----------
legend_rows = [["Verrucomicrobiota","Fusobacteriota","Cyanobacteria","Planctomycetota"],
               ["Bdellovibrionota","Myxococcota","Desulfobacterota","Bacteroidota"],
               ["Actinobacteriota","Chloroflexi","Patescibacteria"],
               ["Proteobacteria","Firmicutes","Campilobacterota"]]
legend_col_x = [1932, 2267, 2603, 2938]
legend_row_y = [1812, 1875, 1938, 2004]
lx, ly, lt, lc = [], [], [], []
for cx, names in zip(legend_col_x, legend_rows):
    for ry, nm in zip(legend_row_y, names):
        lx.append(cx); ly.append(ry); lt.append(f"<b>{nm}</b>"); lc.append(color_of[nm])
fig.add_trace(go.Scatter(x=lx, y=ly, mode="markers", hoverinfo="skip", showlegend=False,
    marker=dict(symbol="square", size=43, color=lc, line=dict(color="black", width=2))))
fig.add_trace(go.Scatter(x=[v + 37 for v in lx], y=ly, mode="text", text=lt, textposition="middle right",
    hoverinfo="skip", showlegend=False, textfont=dict(family=FONT, size=32, color="black")))

# ---------- Annotations ----------
ann = [dict(x=175, y=146, text="<b>A</b>", font=dict(size=108)), dict(x=1751, y=146, text="<b>B</b>", font=dict(size=108))]
for v, t in zip(cb_ticks, cb_text):
    ann.append(dict(x=1604, y=CB_Y1 - (v + 1) / 2 * (CB_Y1 - CB_Y0), text=f"<b>{t}</b>", font=dict(size=32)))
for a in ann:
    a.update(xref="x", yref="y", showarrow=False, xanchor="center", yanchor="middle")
    a["font"].update(family=FONT, color="black")

# missing-glyph box drawn over the last column label
shapes = [dict(type="rect", xref="x", yref="y", x0=1223, x1=1265, y0=1557, y1=1610, line=dict(color="black", width=3)),
          dict(type="line", xref="x", yref="y", x0=1223, x1=1265, y0=1557, y1=1610, line=dict(color="black", width=2)),
          dict(type="line", xref="x", yref="y", x0=1265, x1=1223, y0=1557, y1=1610, line=dict(color="black", width=2))]

GRID = "#BEBEBE"
grid_minor = dict(dtick=1, tick0=0, showgrid=True, gridcolor=GRID, gridwidth=3, ticklen=0)
fig.update_layout(
    width=W, height=H, margin=dict(l=0, r=0, t=0, b=0), paper_bgcolor="white", plot_bgcolor="rgba(0,0,0,0)",
    showlegend=False, annotations=ann, shapes=shapes,
    xaxis=dict(domain=[0, 1], range=[0, W], visible=False, fixedrange=True),
    yaxis=dict(domain=[0, 1], range=[H, 0], visible=False, fixedrange=True),
    xaxis2=dict(domain=[GX0 / W, GX1 / W], range=[0, 20], anchor="y2", side="bottom", tickmode="array",
                tickvals=[i + .5 for i in range(20)], ticktext=[f"<b>{m}</b>" for m in metabolites],
                tickangle=-49, ticklen=1, tickcolor="rgba(0,0,0,0)", showgrid=False, zeroline=False,
                minor=grid_minor, showline=True, mirror=True, linecolor=GRID, linewidth=4,
                tickfont=dict(family=FONT, size=31, color="black"), automargin=False),
    yaxis2=dict(domain=[1 - GY1 / H, 1 - GY0 / H], range=[15, 0], anchor="x2", side="left", tickmode="array",
                tickvals=[i + .5 for i in range(15)], ticktext=[f"<b>{g}</b>" for g in genera],
                ticklen=8, tickcolor="rgba(0,0,0,0)", showgrid=False, zeroline=False, ticklabelshift=5,
                minor=grid_minor, showline=True, mirror=True, linecolor=GRID, linewidth=4,
                tickfont=dict(family=FONT, size=32, color="black"), automargin=False),
)
fig.write_html("out.html", config=dict(responsive=False, displayModeBar=False),
               post_script="document.body.style.margin='0';document.documentElement.style.overflow='hidden';")
